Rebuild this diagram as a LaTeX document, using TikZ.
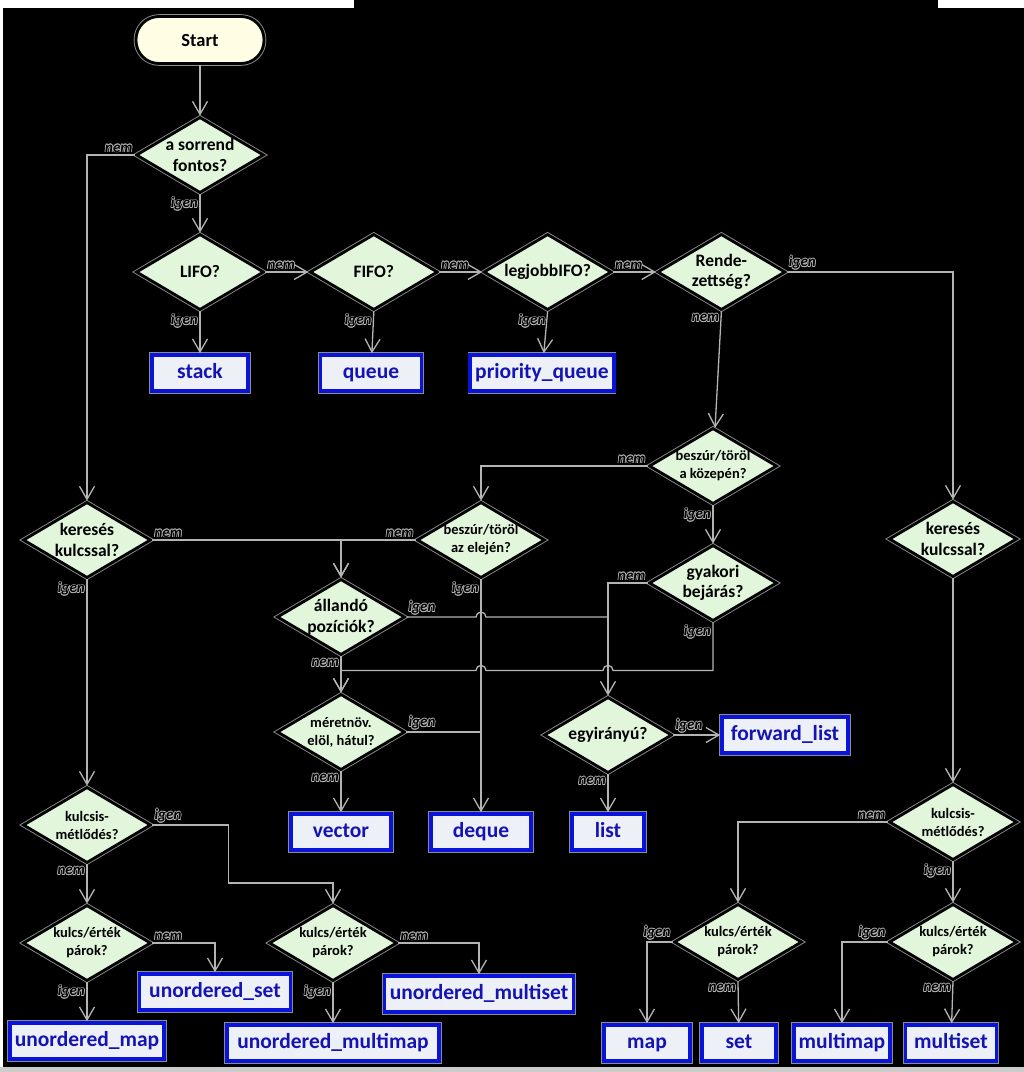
\documentclass[tikz,border=0pt]{standalone}
\usepackage{fontspec}
\setmainfont{Carlito}
\usetikzlibrary{positioning,calc,arrows.meta,shapes.geometric}
\definecolor{qfill}{HTML}{E2F6DC}
\definecolor{sfill}{HTML}{FFFDE3}
\definecolor{cfill}{HTML}{EEF0F8}
\definecolor{cblue}{HTML}{0A14D8}
\definecolor{ctext}{HTML}{1414B4}
\definecolor{wire}{HTML}{B4B4B4}
\definecolor{rim}{HTML}{8C8C8C}
% outlined answer text
\newcommand{\halotext}[1]{%
  \rlap{\color{wire}\kern-0.7pt#1}\rlap{\color{wire}\kern0.7pt#1}%
  \rlap{\color{wire}\raisebox{0.7pt}{#1}}\rlap{\color{wire}\raisebox{-0.7pt}{#1}}%
  \rlap{\color{wire}\kern0.5pt\raisebox{0.5pt}{#1}}\rlap{\color{wire}\kern-0.5pt\raisebox{0.5pt}{#1}}%
  \rlap{\color{wire}\kern0.5pt\raisebox{-0.5pt}{#1}}\rlap{\color{wire}\kern-0.5pt\raisebox{-0.5pt}{#1}}%
  {\color{black}#1}}

\begin{document}
\begin{tikzpicture}[x=1pt,y=-1pt,node distance=43pt,
  term/.style={rectangle,rounded corners=23pt,minimum width=128pt,minimum height=47pt,fill=sfill,draw=black,line width=2.8pt,preaction={draw=rim,line width=4.6pt},font=\bfseries\fontsize{18.5}{21}\selectfont},
  ask/.style={diamond,aspect=1.7,inner sep=0pt,minimum width=128pt,minimum height=76pt,fill=qfill,draw=black,line width=2.8pt,preaction={draw=rim,line width=4.6pt},align=center,font=\bfseries\fontsize{17.5}{20.5}\selectfont},
  asksmall/.style={ask,font=\bfseries\fontsize{14.5}{18}\selectfont},
  cont/.style={rectangle,minimum height=36pt,inner xsep=5pt,text height=15.5pt,text depth=4.5pt,fill=cfill,draw=cblue,line width=3.6pt,preaction={draw=rim,line width=5.2pt},text=ctext,font=\bfseries\fontsize{21.5}{24}\selectfont},
  flow/.style={draw=wire,line width=1.3pt,-{Straight Barb[length=13pt,width=15pt]}},
  link/.style={draw=wire,line width=1.3pt},
  lbl/.style={inner sep=1.5pt,font=\bfseries\itshape\fontsize{15}{15}\selectfont}]
  \useasboundingbox (0,0) rectangle (1024,1072);
  \fill[white] (0,0) rectangle (1024,1072);
  \fill[black] (3,8) rectangle (1024,1067);
  \fill[black] (354,0) rectangle (938,8);
  \fill[gray!40] (0,1067) rectangle (1024,1072);

  % top: order and adaptors
  \node[term] (start) at (200,40) {Start};
  \node[ask] (order) at (200,155) {a sorrend\\fontos?};
  \node[ask] (lifo) at (200,272) {LIFO?};
  \node[ask,right=of lifo] (fifo) {FIFO?};
  \node[ask,right=of fifo] (legj) {legjobbIFO?};
  \node[ask,right=of legj] (rende) {Rende-\\zettség?};
  \node[cont,minimum width=96pt] (stack) at (200,373) {stack};
  \node[cont,minimum width=101pt] (queue) at (371,373) {queue};
  \node[cont,minimum width=143pt] (prio) at (542,373) {priority\_queue};

  % sequences
  \node[asksmall] (mid) at (713,466) {beszúr/töröl\\a közepén?};
  \node[ask] (trav) at (713,583) {gyakori\\bejárás?};
  \node[asksmall] (front) at (481,540) {beszúr/töröl\\az elején?};
  \node[ask] (fixed) at (341,617) {állandó\\pozíciók?};
  \node[asksmall] (grow) at (341,732) {méretnöv.\\elöl, hátul?};
  \node[ask] (fwd) at (608,735) {egyirányú?};
  \node[cont,minimum width=126pt] (flist) at (785,735) {forward\_list};
  \node[cont,minimum width=100pt] (vector) at (341,832) {vector};
  \node[cont,minimum width=100pt] (deque) at (481,832) {deque};
  \node[cont,minimum width=72pt] (list) at (608,832) {list};

  % unordered associative
  \node[ask] (keyl) at (87,540) {keresés\\kulcssal?};
  \node[asksmall] (dupl) at (87,825) {kulcsis-\\métlődés?};
  \node[asksmall] (pairl) at (87,943) {kulcs/érték\\párok?};
  \node[asksmall] (pairm) at (333,943) {kulcs/érték\\párok?};
  \node[cont,minimum width=151pt] (umap) at (87,1041) {unordered\_map};
  \node[cont,minimum width=151pt] (uset) at (215,992) {unordered\_set};
  \node[cont,minimum width=212pt] (umultimap) at (333,1043) {unordered\_multimap};
  \node[cont,minimum width=189pt] (umultiset) at (479,994) {unordered\_multiset};

  % ordered associative
  \node[ask] (keyr) at (953,539) {keresés\\kulcssal?};
  \node[asksmall] (dupr) at (953,822) {kulcsis-\\métlődés?};
  \node[asksmall] (pairr) at (738,942) {kulcs/érték\\párok?};
  \node[asksmall] (pairrm) at (953,942) {kulcs/érték\\párok?};
  \node[cont,minimum width=86pt] (map) at (647,1043) {map};
  \node[cont,minimum width=74pt] (set) at (739,1043) {set};
  \node[cont,minimum width=96pt] (multimap) at (842,1043) {multimap};
  \node[cont,minimum width=91pt] (multiset) at (951,1043) {multiset};

  \draw[flow] (start) -- (order);
  \draw[flow] (order.south) node[lbl,anchor=north east] {\halotext{igen}} -- (lifo);
  \draw[flow] (order.west) node[lbl,anchor=south east] {\halotext{nem}} -| (keyl.north);
  \draw[flow] (lifo.east) node[lbl,anchor=south west] {\halotext{nem}} -- (fifo.west);
  \draw[flow] (fifo.east) node[lbl,anchor=south west] {\halotext{nem}} -- (legj.west);
  \draw[flow] (legj.east) node[lbl,anchor=south west] {\halotext{nem}} -- (rende.west);
  \draw[flow] (lifo.south) node[lbl,anchor=north east] {\halotext{igen}} -- (stack);
  \draw[flow] (fifo.south) node[lbl,anchor=north east] {\halotext{igen}} -- (queue);
  \draw[flow] (legj.south) node[lbl,anchor=north east] {\halotext{igen}} -- (prio);
  \draw[flow] (rende.east) node[lbl,anchor=south west] {\halotext{igen}} -| (keyr.north);
  \draw[flow] (rende.south) node[lbl,anchor=north east] {\halotext{nem}} -- (mid);

  \draw[flow] (mid.west) node[lbl,anchor=south east] {\halotext{nem}} -| (front.north);
  \draw[flow] (mid.south) node[lbl,anchor=north east] {\halotext{igen}} -- (trav);
  \draw[flow] (keyl.east) node[lbl,anchor=south west] {\halotext{nem}} -| (fixed.north);
  \draw[flow] (front.west) node[lbl,anchor=south east] {\halotext{nem}} -| (fixed.north);
  \draw[flow] (front.south) node[lbl,anchor=north east] {\halotext{igen}} -- (deque);
  \draw[flow] (trav.west) node[lbl,anchor=south east] {\halotext{nem}} -| (fwd.north);
  \draw[link] (fixed.east) node[lbl,anchor=south west] {\halotext{igen}} -- ($(front.south |- fixed.east)+(-5,0)$)
    arc[start angle=180,end angle=360,radius=5] -- (fwd.north |- fixed.east);
  \draw[flow] (trav.south) node[lbl,anchor=north east] {\halotext{igen}} -- ++(0,48) coordinate (turn)
    -- ($(fwd.north |- turn)+(5,0)$) arc[start angle=0,end angle=-180,radius=5]
    -- ($(front.south |- turn)+(5,0)$) arc[start angle=0,end angle=-180,radius=5]
    -- (grow.north |- turn) -- (grow.north);
  \draw[flow] (fixed.south) node[lbl,anchor=north east] {\halotext{nem}} -- (grow.north);
  \draw[link] (grow.east) node[lbl,anchor=south west] {\halotext{igen}} -- (front.south |- grow.east);
  \draw[flow] (grow.south) node[lbl,anchor=north east] {\halotext{nem}} -- (vector);
  \draw[flow] (fwd.east) node[lbl,anchor=south west] {\halotext{igen}} -- (flist);
  \draw[flow] (fwd.south) node[lbl,anchor=north east] {\halotext{nem}} -- (list);

  \draw[flow] (keyl.south) node[lbl,anchor=north east] {\halotext{igen}} -- (dupl);
  \draw[flow] (dupl.south) node[lbl,anchor=north east] {\halotext{nem}} -- (pairl);
  \draw[flow] (dupl.east) node[lbl,anchor=south west] {\halotext{igen}} -- ++(76,0) -- ++(0,58) -| (pairm.north);
  \draw[flow] (pairl.east) node[lbl,anchor=south west] {\halotext{nem}} -| (uset);
  \draw[flow] (pairl.south) node[lbl,anchor=north east] {\halotext{igen}} -- (umap);
  \draw[flow] (pairm.east) node[lbl,anchor=south west] {\halotext{nem}} -| (umultiset);
  \draw[flow] (pairm.south) node[lbl,anchor=north east] {\halotext{igen}} -- (umultimap);

  \draw[flow] (keyr) -- (dupr);
  \draw[flow] (dupr.west) node[lbl,anchor=south east] {\halotext{nem}} -| (pairr.north);
  \draw[flow] (dupr.south) node[lbl,anchor=north east] {\halotext{igen}} -- (pairrm);
  \draw[flow] (pairr.west) node[lbl,anchor=south east] {\halotext{igen}} -| (map);
  \draw[flow] (pairr.south) node[lbl,anchor=north east] {\halotext{nem}} -- (set);
  \draw[flow] (pairrm.west) node[lbl,anchor=south east] {\halotext{igen}} -| (multimap);
  \draw[flow] (pairrm.south) node[lbl,anchor=north east] {\halotext{nem}} -- (multiset);
\end{tikzpicture}
\end{document}
